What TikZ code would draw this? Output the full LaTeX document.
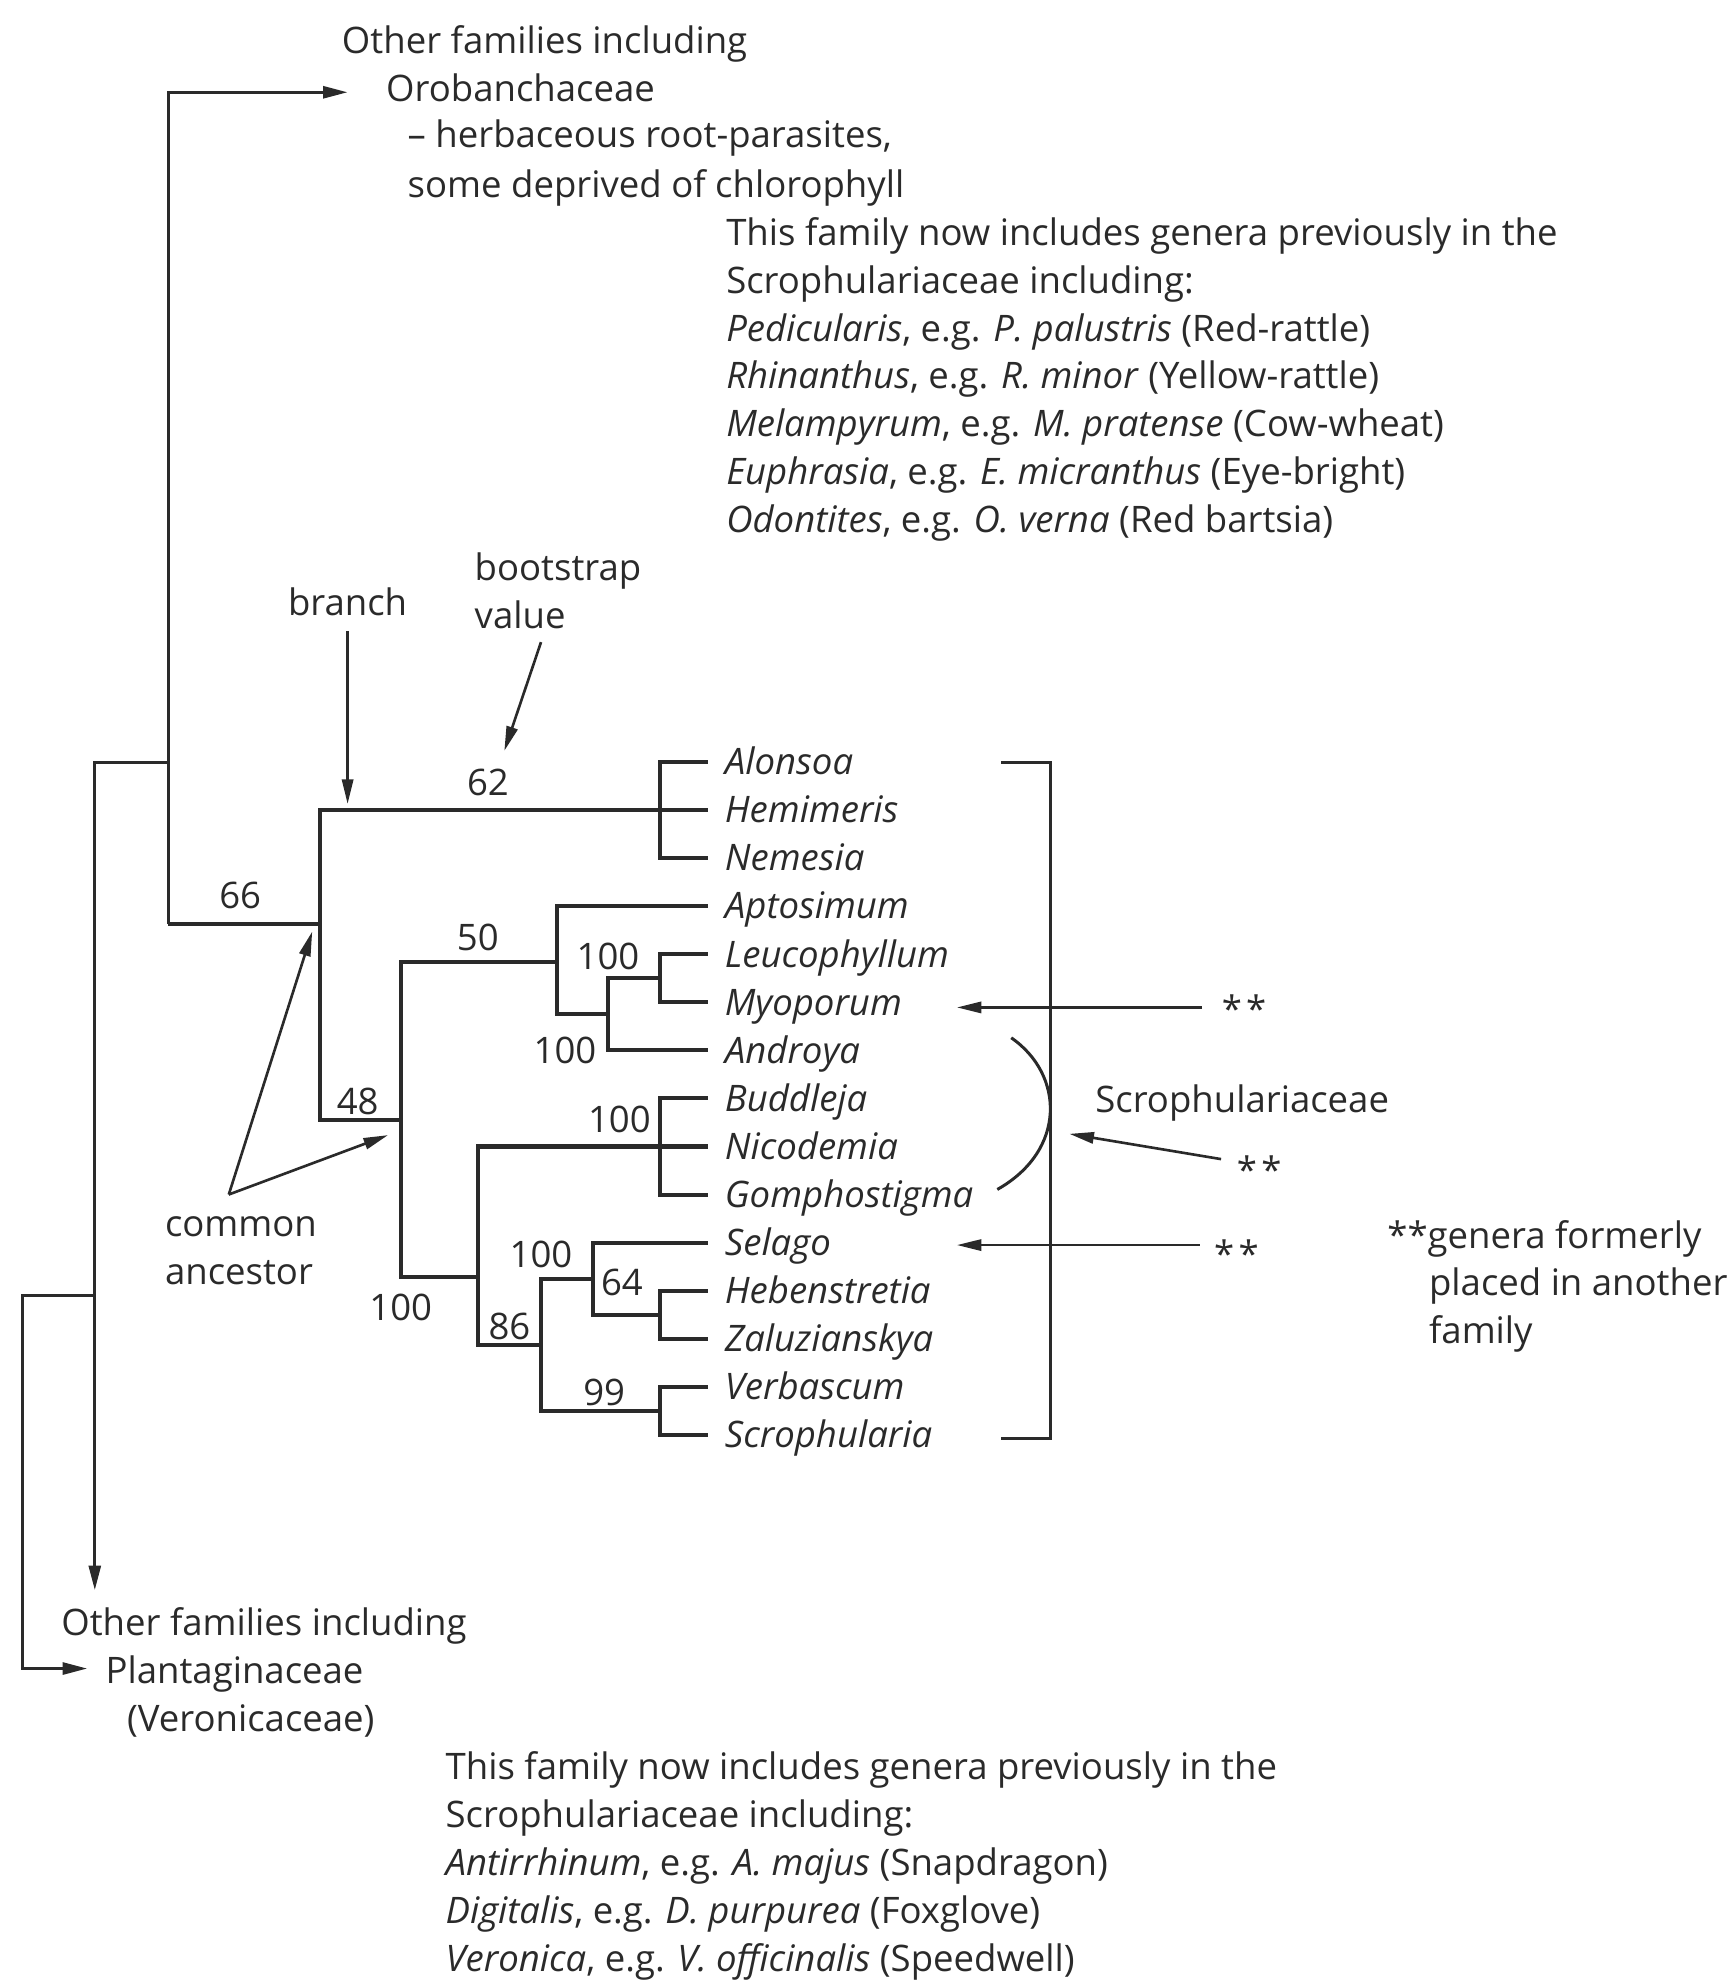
\documentclass[tikz,border=0pt]{standalone}
\usepackage{fontspec}
\setmainfont{Open Sans}
\usetikzlibrary{arrows.meta}
\definecolor{ink}{HTML}{2A2A2A}
\newlength\calibw
% font size chosen so that the long caption lines get their set width
\AtBeginDocument{%
  \settowidth{\calibw}{\fontsize{10pt}{12pt}\selectfont This family now includes genera previously in the}%
  \pgfmathsetmacro{\fsztmp}{10*236.7/\calibw}%
  \global\let\fsz\fsztmp}

\begin{document}
\begin{tikzpicture}[x=0.012644cm, y=-0.012644cm]
\tikzset{
  every node/.style={font=\fontsize{\fsz pt}{\fsz pt}\selectfont, text=ink, inner sep=0pt},
  txt/.style={anchor=base west, yshift=-0.038cm},
  ctr/.style={anchor=base, yshift=-0.038cm},
  leaf/.style={anchor=west, inner xsep=4.65pt, inner ysep=0pt, text height=7.2pt, text depth=0pt,
    font=\fontsize{\fsz pt}{\fsz pt}\selectfont\itshape},
  tree/.style={draw=ink, line width=1.15pt},
  outer/.style={draw=ink, line width=0.85pt},
  outerarr/.style={outer, -{Triangle[length=7pt,width=3.4pt]}},
  arr/.style={draw=ink, line width=0.75pt, -{Triangle[length=7pt,width=3.2pt]}}
}
\useasboundingbox (0,0) rectangle (1369,1568);

% ---- leaves ----
\foreach \nm [count=\i from 0] in {Alonsoa,Hemimeris,Nemesia,Aptosimum,Leucophyllum,Myoporum,Androya,Buddleja,Nicodemia,Gomphostigma,Selago,Hebenstretia,Zaluzianskya,Verbascum,Scrophularia}
  \node[leaf] (\nm) at (560,{603+38*\i}) {\nm};

% ---- internal nodes ----
\coordinate (nA)   at (522,641);
\coordinate (nLM)  at (522,774);
\coordinate (nG)   at (481,802);
\coordinate (nF)   at (441,761);
\coordinate (nBNG) at (522,907);
\coordinate (nHZ)  at (522,1040);
\coordinate (nVS)  at (522,1116);
\coordinate (nJ)   at (469,1012);
\coordinate (nI)   at (428,1064);
\coordinate (nH)   at (378,1010);
\coordinate (nE)   at (317,886);
\coordinate (nD)   at (253,731);

% ---- tree ----
\draw[tree] (Alonsoa.west) -| (nA) |- (Nemesia.west);
\draw[tree] (Hemimeris.west) -| (nD) |- (nE);
\draw[tree] (nF) -| (nE) |- (nH);
\draw[tree] (Aptosimum.west) -| (nF) |- (nG);
\draw[tree] (nLM) -| (nG) |- (Androya.west);
\draw[tree] (Leucophyllum.west) -| (nLM) |- (Myoporum.west);
\draw[tree] (Buddleja.west) -| (nBNG) |- (Gomphostigma.west);
\draw[tree] (Nicodemia.west) -| (nH) |- (nI);
\draw[tree] (nJ) -| (nI) |- (nVS);
\draw[tree] (Selago.west) -| (nJ) |- (nHZ);
\draw[tree] (Hebenstretia.west) -| (nHZ) |- (Zaluzianskya.west);
\draw[tree] (Verbascum.west) -| (nVS) |- (Scrophularia.west);

% ---- deeper branches ----
\coordinate (aBot) at (133,731);
\coordinate (aTop) at (133,73);
\coordinate (oroTip) at (275,73);
\coordinate (abJoin) at (133,603);
\coordinate (bTip) at (75,1258);
\coordinate (bcJoin) at (75,1025);
\coordinate (cCorner) at (18,1320);
\coordinate (plTip) at (69,1320);
\draw[tree] (nD) -- (aBot);
\draw[outerarr] (aBot) -- (aTop) -- (oroTip);
\draw[outerarr] (abJoin) -| (bTip);
\draw[outerarr] (bcJoin) -| (cCorner) -- (plTip);

% ---- bootstrap values ----
\node[ctr] (b66)  at (190,716)  {66};
\node[ctr] (b62)  at (386,626)  {62};
\node[ctr] (b50)  at (378,749)  {50};
\node[ctr] (b100a) at (481,764) {100};
\node[ctr] (b100b) at (447,838) {100};
\node[ctr] (b48)  at (283,879)  {48};
\node[ctr] (b100c) at (490,893) {100};
\node[ctr] (b100d) at (428,1000) {100};
\node[ctr] (b64)  at (492,1022) {64};
\node[ctr] (b86)  at (403,1057) {86};
\node[ctr] (b100e) at (317,1042) {100};
\node[ctr] (b99)  at (478,1109) {99};

% ---- upper family text ----
\node[txt] (of1)  at (270,39)  {Other families including};
\node[txt] (oro)  at (305,77)  {Orobanchaceae};
\node[txt] (oro2) at (322,114) {– herbaceous root-parasites,};
\node[txt] (oro3) at (322,153) {some deprived of chlorophyll};
\node[txt] (t1) at (574,191) {This family now includes genera previously in the};
\node[txt] (t2) at (574,229) {Scrophulariaceae including:};
\node[txt] (t3) at (574,267) {\textit{Pedicularis}, e.g. \textit{P. palustris} (Red-rattle)};
\node[txt] (t4) at (574,304) {\textit{Rhinanthus}, e.g. \textit{R. minor} (Yellow-rattle)};
\node[txt] (t5) at (574,342) {\textit{Melampyrum}, e.g. \textit{M. pratense} (Cow-wheat)};
\node[txt] (t6) at (574,380) {\textit{Euphrasia}, e.g. \textit{E. micranthus} (Eye-bright)};
\node[txt] (t7) at (574,418) {\textit{Odontites}, e.g. \textit{O. verna} (Red bartsia)};

% ---- lower family text ----
\node[txt] (of2) at (48,1291)  {Other families including};
\node[txt] (pla) at (83,1329)  {Plantaginaceae};
\node[txt] (ver) at (100,1367) {(Veronicaceae)};
\node[txt] (u1) at (352,1405) {This family now includes genera previously in the};
\node[txt] (u2) at (352,1443) {Scrophulariaceae including:};
\node[txt] (u3) at (352,1481) {\textit{Antirrhinum}, e.g. \textit{A. majus} (Snapdragon)};
\node[txt] (u4) at (352,1519) {\textit{Digitalis}, e.g. \textit{D. purpurea} (Foxglove)};
\node[txt] (u5) at (352,1557) {\textit{Veronica}, e.g. \textit{V. officinalis} (Speedwell)};

% ---- explanatory labels ----
\node[ctr] (brn) at (275,484) {branch};
\node[txt] (bs1) at (375,456) {bootstrap};
\node[txt] (bs2) at (375,494) {value};
\node[txt] (ca1) at (130,975) {common};
\node[txt] (ca2) at (130,1013) {ancestor};
\coordinate (brA) at (275,499);
\coordinate (brB) at (275,636);
\coordinate (bvA) at (428,508);
\coordinate (bvB) at (399,594);
\coordinate (caApex) at (181,945);
\coordinate (caD) at (247,737);
\coordinate (caE) at (307,898);
\draw[arr] (brA) -- (brB);
\draw[arr] (bvA) -- (bvB);
\draw[arr] (caApex) -- (caD);
\draw[arr] (caApex) -- (caE);

% ---- family bracket ----
\coordinate (brT) at (792,603);
\coordinate (brTR) at (831,603);
\coordinate (brBR) at (831,1138);
\coordinate (brBt) at (792,1138);
\draw[outer] (brT) -- (brTR) -- (brBR) -- (brBt);
\coordinate (arcT) at (800,821);
\coordinate (arcB) at (789,941);
\draw[outer] (arcT) .. controls (842,850) and (844,910) .. (arcB);
\node[txt] (scr) at (866,877) {Scrophulariaceae};

% ---- transferred genera ----
\node[txt] (st1) at (966,806) {*\kern1.2pt*};
\node[txt] (st2) at (978,933) {*\kern1.2pt*};
\node[txt] (st3) at (960,1000) {*\kern1.2pt*};
\coordinate (s1A) at (951,797);
\coordinate (s1B) at (757,797);
\coordinate (s2A) at (966,917);
\coordinate (s2B) at (846,897);
\coordinate (s3A) at (949,985);
\coordinate (s3B) at (757,985);
\draw[arr] (s1A) -- (s1B);
\draw[arr] (s2A) -- (s2B);
\draw[arr] (s3A) -- (s3B);
\node[txt] (gf1) at (1097,985)  {**genera formerly};
\node[txt] (gf2) at (1130,1022) {placed in another};
\node[txt] (gf3) at (1130,1060) {family};
\end{tikzpicture}
\end{document}
